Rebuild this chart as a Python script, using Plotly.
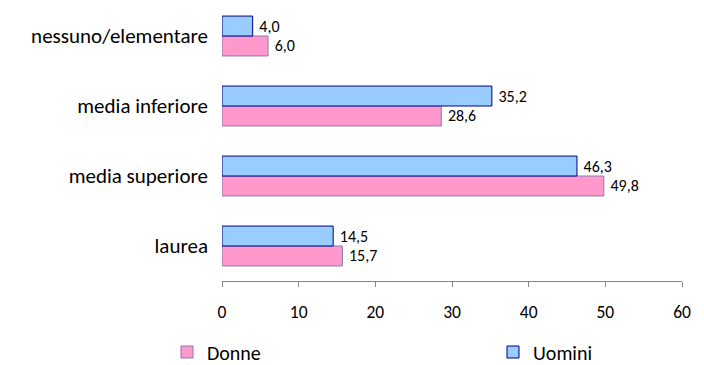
import plotly.graph_objects as go

# Education level (top to bottom as displayed)
categories = ["nessuno/elementare", "media inferiore", "media superiore", "laurea"]
donne = [6.0, 28.6, 49.8, 15.7]
uomini = [4.0, 35.2, 46.3, 14.5]
x_ticks = [0, 10, 20, 30, 40, 50, 60]

FONT = "Carlito, Lato, Calibri, sans-serif"
LABEL_FMT = "\u00a0%{x:.1f}"

fig = go.Figure()
fig.add_trace(go.Bar(
    name="Donne", y=categories, x=donne, orientation="h",
    marker=dict(color="#FF99CC", line=dict(color="#8878B8", width=1)),
    texttemplate=LABEL_FMT, textposition="outside",
    textfont=dict(family=FONT, size=16, color="#000000"),
    cliponaxis=False, legend="legend",
))
fig.add_trace(go.Bar(
    name="Uomini", y=categories, x=uomini, orientation="h",
    marker=dict(color="#99CCFF", line=dict(color="#000080", width=1)),
    texttemplate=LABEL_FMT, textposition="outside",
    textfont=dict(family=FONT, size=16, color="#000000"),
    cliponaxis=False, legend="legend2",
))

legend_common = dict(
    orientation="h", xref="container", yref="container",
    y=13 / 365, xanchor="left", yanchor="middle",
    font=dict(family=FONT, size=20, color="#000000"),
    bgcolor="rgba(0,0,0,0)",
)

fig.update_layout(
    width=704, height=365,
    margin=dict(l=222, r=22, t=1, b=84),
    paper_bgcolor="white", plot_bgcolor="white",
    barmode="group", bargap=0.43, bargroupgap=0,
    separators=",.",
    font=dict(family=FONT, size=16, color="#000000"),
    showlegend=True,
    legend=dict(x=167 / 704, **legend_common),
    legend2=dict(x=493 / 704, **legend_common),
    uniformtext=dict(mode=False),
)
fig.update_xaxes(
    range=[0, 60], tickvals=x_ticks, showgrid=False, zeroline=False,
    showline=True, linecolor="#868686", linewidth=1,
    ticks="outside", ticklen=5, tickcolor="#868686",
    ticklabelstandoff=10,
    tickfont=dict(family=FONT, size=17.5, color="#000000"),
)
fig.update_yaxes(
    categoryorder="array", categoryarray=categories[::-1],
    showgrid=False, zeroline=False, showline=False, ticks="",
    ticklabelstandoff=13,
    tickfont=dict(family=FONT, size=21, color="#000000"),
)

fig.write_html("out.html")
